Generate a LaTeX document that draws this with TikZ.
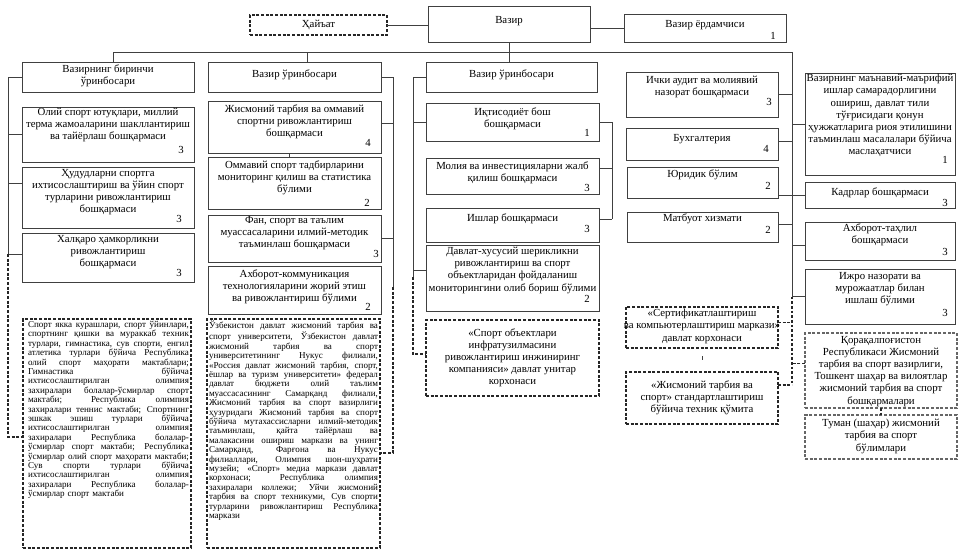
\documentclass[tikz,border=0pt]{standalone}
\usepackage{fontspec}
\setmainfont{Liberation Serif}
\tikzset{
 sbox/.style={draw=black!75, line width=0.6pt, inner sep=0pt, outer sep=0pt},
 dbox/.style={draw=black!85, line width=0.8pt, dash pattern=on 2.2pt off 1.3pt, inner sep=0pt, outer sep=0pt},
 gbox/.style={dbox, draw=black!60},
 txt/.style={font=\fontsize{8.1}{9.1}\selectfont, align=center, inner sep=0pt},
 num/.style={font=\fontsize{8.1}{9.1}\selectfont, inner sep=0pt},
 small/.style={font=\fontsize{6.8}{7.05}\selectfont, align=left, inner sep=0pt},
 ln/.style={draw=black!75, line width=0.6pt},
 dln/.style={draw=black!85, line width=0.8pt, dash pattern=on 2.2pt off 1.3pt},
}
% box with text: name, x1, y1, x2, y2, style, text top, text
\newcommand\bxt[8]{%
 \node[#6, minimum width={(#4-#2)*0.75pt}, minimum height={(#5-#3)*0.75pt}] (#1) at ({(#2+#4)/2},{(#3+#5)/2}) {};
 \node[txt, anchor=north] (#1t) at ({(#2+#4)/2},#7) {#8};}
\newcommand\nm[4]{\node[num] (#1) at (#2,#3) {#4};}
\newcommand\ja[1]{\hbox to 120.75pt{\spaceskip=0.25em plus 1fil minus 0.1em\relax #1}}
\newcommand\jb[1]{\hbox to 126.75pt{\spaceskip=0.25em plus 1fil minus 0.1em\relax #1}}
\begin{document}
\begin{tikzpicture}[x=0.75pt,y=-0.75pt]
\useasboundingbox (0,0) rectangle (963,558);
\fill[white] (0,0) rectangle (963,558);

% top row
\node[dbox, minimum width={137*0.75pt}, minimum height={20*0.75pt}, font=\fontsize{8.1}{9.1}\selectfont] (hay) at (318.5,25) {Ҳайъат};
\bxt{vaz}{428}{6}{590}{42}{sbox}{16}{Вазир}
\bxt{yor}{624}{14}{786}{42}{sbox}{20}{Вазир ёрдамчиси}
\nm{yorn}{773}{36}{1}

% deputies
\bxt{v1}{22}{62}{194}{92}{sbox}{64}{Вазирнинг биринчи\\ ўринбосари}
\bxt{v2}{208}{62}{381}{92}{sbox}{69}{Вазир ўринбосари}
\bxt{v3}{426}{62}{597}{92}{sbox}{69}{Вазир ўринбосари}

% column 1
\bxt{c1a}{22}{107}{194}{162}{sbox}{108}{Олий спорт ютуқлари, миллий\\ терма жамоаларини шакллантириш\\ ва тайёрлаш бошқармаси}
\nm{c1an}{181}{150}{3}
\bxt{c1b}{22}{167}{194}{228}{sbox}{169}{Ҳудудларни спортга\\ ихтисослаштириш ва ўйин спорт\\ турларини ривожлантириш\\ бошқармаси}
\nm{c1bn}{179}{219}{3}
\bxt{c1c}{22}{233}{194}{282}{sbox}{235}{Халқаро ҳамкорликни\\ ривожлантириш\\ бошқармаси}
\nm{c1cn}{179}{273}{3}
\node[dbox, minimum width={168*0.75pt}, minimum height={229*0.75pt}] (d1) at (107,433.5) {};
\node[small, text width=120.75pt, anchor=north] (d1t) at (108.5,321) {%
\ja{Спорт якка курашлари, спорт ўйинлари,}
\ja{спортнинг қишки ва мураккаб техник}
\ja{турлари, гимнастика, сув спорти, енгил}
\ja{атлетика турлари бўйича Республика}
\ja{олий спорт маҳорати мактаблари;}
\ja{Гимнастика бўйича}
\ja{ихтисослаштирилган олимпия}
\ja{захиралари болалар-ўсмирлар спорт}
\ja{мактаби; Республика олимпия}
\ja{захиралари теннис мактаби; Спортнинг}
\ja{эшкак эшиш турлари бўйича}
\ja{ихтисослаштирилган олимпия}
\ja{захиралари Республика болалар-}
\ja{ўсмирлар спорт мактаби; Республика}
\ja{ўсмирлар олий спорт маҳорати мактаби;}
\ja{Сув спорти турлари бўйича}
\ja{ихтисослаштирилган олимпия}
\ja{захиралари Республика болалар-}
\hbox{ўсмирлар спорт мактаби}};

% column 2
\bxt{c2a}{208}{101}{381}{153}{sbox}{104}{Жисмоний тарбия ва оммавий\\ спортни ривожлантириш\\ бошқармаси}
\nm{c2an}{368}{143}{4}
\bxt{c2b}{208}{157}{381}{209}{sbox}{160}{Оммавий спорт тадбирларини\\ мониторинг қилиш ва статистика\\ бўлими}
\nm{c2bn}{367}{203}{2}
\bxt{c2c}{208}{215}{381}{262}{sbox}{216}{Фан, спорт ва таълим\\ муассасаларини илмий-методик\\ таъминлаш бошқармаси}
\nm{c2cn}{376}{254}{3}
\bxt{c2d}{208}{266}{381}{314}{sbox}{269}{Ахборот-коммуникация\\ технологияларини жорий этиш\\ ва ривожлантириш бўлими}
\nm{c2dn}{368}{307}{2}
\node[dbox, minimum width={173*0.75pt}, minimum height={229*0.75pt}] (d2) at (293.5,433.5) {};
\node[small, text width=126.75pt, anchor=north] (d2t) at (293.5,321) {%
\jb{Ўзбекистон давлат жисмоний тарбия ва}
\jb{спорт университети, Ўзбекистон давлат}
\jb{жисмоний тарбия ва спорт}
\jb{университетининг Нукус филиали,}
\jb{«Россия давлат жисмоний тарбия, спорт,}
\jb{ёшлар ва туризм университети» федерал}
\jb{давлат бюджети олий таълим}
\jb{муассасасининг Самарқанд филиали,}
\jb{Жисмоний тарбия ва спорт вазирлиги}
\jb{ҳузуридаги Жисмоний тарбия ва спорт}
\jb{бўйича мутахассисларни илмий-методик}
\jb{таъминлаш, қайта тайёрлаш ва}
\jb{малакасини ошириш маркази ва унинг}
\jb{Самарқанд, Фарғона ва Нукус}
\jb{филиаллари, Олимпия шон-шуҳрати}
\jb{музейи; «Спорт» медиа маркази давлат}
\jb{корхонаси; Республика олимпия}
\jb{захиралари коллежи; Уйчи жисмоний}
\jb{тарбия ва спорт техникуми, Сув спорти}
\jb{турларини ривожлантириш Республика}
\hbox{маркази}};

% column 3
\bxt{c3a}{426}{103}{599}{141}{sbox}{107}{Иқтисодиёт бош\\ бошқармаси}
\nm{c3an}{587}{133}{1}
\bxt{c3b}{426}{158}{599}{194}{sbox}{161}{Молия ва инвестицияларни жалб\\ қилиш бошқармаси}
\nm{c3bn}{587}{188}{3}
\bxt{c3c}{426}{208}{599}{242}{sbox}{213}{Ишлар бошқармаси}
\nm{c3cn}{587}{229}{3}
\bxt{c3d}{426}{245}{599}{311}{sbox}{247}{Давлат-хусусий шерикликни\\ ривожлантириш ва спорт\\ объектларидан фойдаланиш\\ мониторингини олиб бориш бўлими}
\nm{c3dn}{587}{299}{2}
\bxt{d3}{426}{320}{599}{396}{dbox}{328}{«Спорт объектлари\\ инфратузилмасини\\ ривожлантириш инжиниринг\\ компанияси» давлат унитар\\ корхонаси}

% column 4
\bxt{c4a}{626}{72}{778}{117}{sbox}{76}{Ички аудит ва молиявий\\ назорат бошқармаси}
\nm{c4an}{769}{102}{3}
\bxt{c4b}{626}{128}{778}{160}{sbox}{134}{Бухгалтерия}
\nm{c4bn}{766}{149}{4}
\bxt{c4c}{627}{167}{778}{198}{sbox}{169}{Юридик бўлим}
\nm{c4cn}{768}{186}{2}
\bxt{c4d}{627}{212}{778}{242}{sbox}{213}{Матбуот хизмати}
\nm{c4dn}{768}{230}{2}
\bxt{d4a}{626}{307}{778}{348}{dbox}{309}{«Сертификатлаштириш\\ ва компьютерлаштириш маркази»\\ давлат корхонаси}
\bxt{d4b}{626}{372}{778}{424}{dbox}{380}{«Жисмоний тарбия ва\\ спорт» стандартлаштириш\\ бўйича техник қўмита}

% column 5
\bxt{c5a}{805}{73}{955}{175}{sbox}{74}{Вазирнинг маънавий-маърифий\\ ишлар самарадорлигини\\ ошириш, давлат тили\\ тўғрисидаги қонун\\ ҳужжатларига риоя этилишини\\ таъминлаш масалалари бўйича\\ маслаҳатчиси}
\nm{c5an}{945}{160}{1}
\bxt{c5b}{805}{182}{955}{208}{sbox}{187}{Кадрлар бошқармаси}
\nm{c5bn}{945}{203}{3}
\bxt{c5c}{805}{222}{955}{260}{sbox}{223}{Ахборот-таҳлил\\ бошқармаси}
\nm{c5cn}{945}{252}{3}
\bxt{c5d}{805}{269}{955}{324}{sbox}{272}{Ижро назорати ва\\ мурожаатлар билан\\ ишлаш бўлими}
\nm{c5dn}{945}{313}{3}
\bxt{d5a}{805}{333}{957}{408}{gbox}{336}{Қорақалпоғистон\\ Республикаси Жисмоний\\ тарбия ва спорт вазирлиги,\\ Тошкент шаҳар ва вилоятлар\\ жисмоний тарбия ва спорт\\ бошқармалари}
\bxt{d5b}{805}{415}{957}{459}{gbox}{419}{Туман (шаҳар) жисмоний\\ тарбия ва спорт\\ бўлимлари}

% ---------- connectors ----------
\coordinate (busL) at (113,52);
\coordinate (T) at (792,52);
\coordinate (L1) at (8,76);
\coordinate (R2) at (393,78);
\coordinate (L3) at (413,78);
\coordinate (B3) at (612,123);

% top
\draw[ln] (hay.east) -- (hay.east -| vaz.west);
\draw[ln] (yor.west -| vaz.east) -- (yor.west);
\draw[ln] (vaz.south) -- (vaz.south |- v3.north);
\draw[ln] (busL) -- (T);
\draw[ln] (busL) -- (busL |- v1.north);
\coordinate (v2C) at ([xshift=9.4pt]v2.north);
\draw[ln] (v2C) -- (v2C |- T);

% column 1
\coordinate (c1bC) at ([yshift=10.9pt]c1b.west);
\coordinate (c1cC) at ([yshift=2.6pt]c1c.west);
\coordinate (d1C) at ([yshift=-2.6pt]d1.west);
\draw[ln] (v1.west) -- (v1.west -| L1);
\draw[ln] (c1a.west) -- (c1a.west -| L1);
\draw[ln] (c1bC) -- (c1bC -| L1);
\draw[ln] (c1cC) -- (c1cC -| L1);
\draw[ln] (v1.west -| L1) -- (c1cC -| L1);
\draw[dln] (c1cC -| L1) -- (d1C -| L1) -- (d1C);

% column 2
\coordinate (c2aC) at ([yshift=3pt]c2a.east);
\coordinate (R2s) at (393,287);
\coordinate (d2C) at ([yshift=-14.6pt]d2.east);
\draw[ln] (v2.east) -- (v2.east -| R2);
\draw[ln] (c2aC) -- (c2aC -| R2);
\draw[ln] (c2c.east) -- (c2c.east -| R2);
\draw[ln] (v2.east -| R2) -- (R2s);
\draw[dln] (R2s) -- (d2C -| R2) -- (d2C);
\coordinate (tk1) at ([xshift=-4pt]c2a.south);
\draw[ln] (tk1) -- (tk1 |- c2b.north);

% column 3
\coordinate (c3dC) at ([yshift=6pt]c3d.west);
\coordinate (L3s) at (413,277);
\coordinate (d3C) at ([yshift=3pt]d3.west);
\draw[ln] (v3.west) -- (v3.west -| L3);
\draw[ln] (c3a.west) -- (c3a.west -| L3);
\draw[ln] (c3dC) -- (c3dC -| L3);
\draw[ln] (v3.west -| L3) -- (L3s);
\draw[dln] (L3s) -- (d3C -| L3) -- (d3C);
\coordinate (c3bC) at ([yshift=6pt]c3b.east);
\coordinate (c3cC) at ([yshift=4.5pt]c3c.east);
\draw[ln] (c3a.east) -- (c3a.east -| B3);
\draw[ln] (c3bC) -- (c3bC -| B3);
\draw[ln] (c3cC) -- (c3cC -| B3);
\draw[ln] (c3a.east -| B3) -- (c3cC -| B3);

% right trunk
\coordinate (c4bC) at ([yshift=2pt]c4b.east);
\coordinate (c4cC) at ([yshift=-10pt]c4c.east);
\coordinate (c4dC) at ([yshift=2pt]c4d.east);
\coordinate (c5cC) at ([yshift=-3pt]c5c.west);
\coordinate (d4aC) at ([yshift=4pt]d4a.east);
\coordinate (d4bC) at ([yshift=9.75pt]d4b.east);
\coordinate (d5aC) at ([yshift=5pt]d5a.west);
\draw[ln] (T) -- (c5d.west -| T);
\draw[dln] (c5d.west -| T) -- (d4bC -| T);
\draw[ln] (c4a.east) -- (c4a.east -| T);
\draw[ln] (c4bC) -- (c4bC -| T);
\draw[ln] (c4cC) -- (c4cC -| T);
\draw[ln] (c4dC) -- (c4dC -| T);
\draw[ln] (c5a.west) -- (c5a.west -| T);
\draw[ln] (c5b.west) -- (c5b.west -| T);
\draw[ln] (c5cC) -- (c5cC -| T);
\draw[ln] (c5d.west) -- (c5d.west -| T);
\draw[dln] (d4aC) -- (d4aC -| T);
\draw[dln] (d4bC) -- (d4bC -| T);
\draw[dln] (d5aC) -- (d5aC -| T);
\coordinate (tk2) at ([yshift=-6pt]d4a.south);
\draw[ln] (tk2) -- ++(0,4);
\draw[dln] (d5a.south) -- (d5b.north);
\end{tikzpicture}
\end{document}
